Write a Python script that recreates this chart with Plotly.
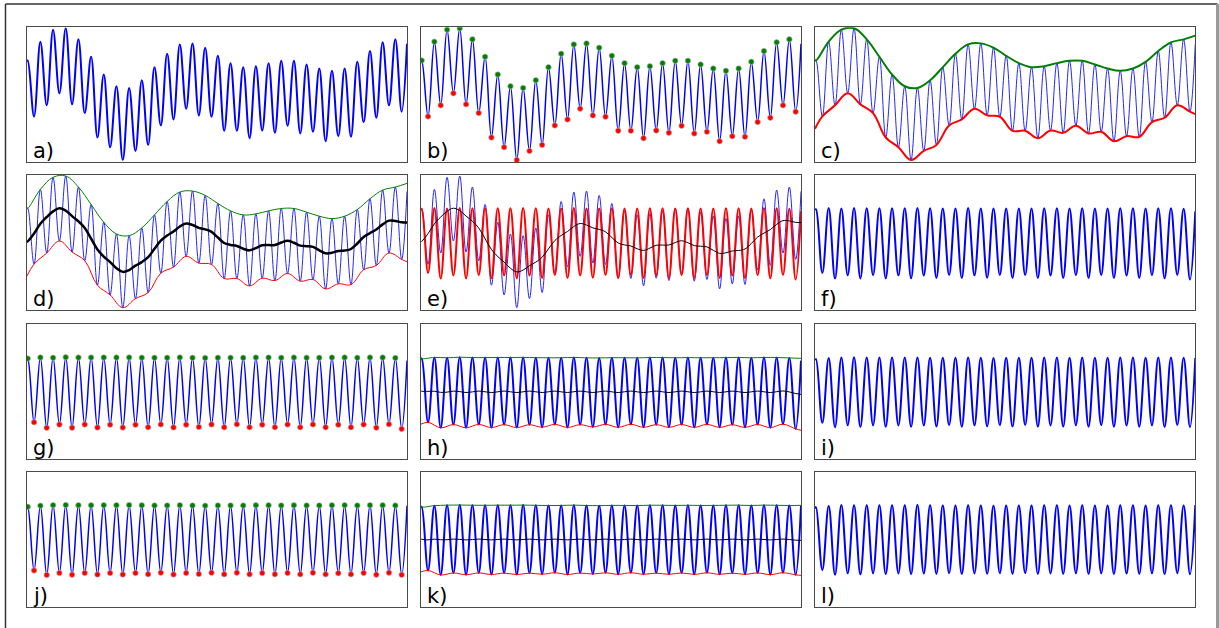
import numpy as np
import plotly.graph_objects as go

# ---------------------------------------------------------------------------
# Data: one intrinsic-mode sifting example (EMD).  The raw signal is given by
# its local maxima / minima; each cycle of the fast oscillation has one of each.
# ---------------------------------------------------------------------------
N_CYCLES = 30
PEAK_PHASE = 0.08      # first maximum, in cycles from the left edge
TROUGH_PHASE = 0.58    # first minimum

signal_max = [1.025, 1.585, 1.945, 1.985, 1.655, 1.135, 0.605, 0.255, 0.205, 0.435,
              0.825, 1.225, 1.505, 1.535, 1.405, 1.165, 0.945, 0.825, 0.855, 0.945,
              1.015, 1.015, 0.905, 0.785, 0.715, 0.785, 0.985, 1.305, 1.565, 1.655]
signal_min = [-0.645, -0.315, 0.045, -0.285, -0.545, -1.275, -1.565, -1.945, -1.675, -1.495,
              -0.915, -0.735, -0.415, -0.615, -0.655, -1.075, -1.075, -1.295, -1.065, -1.135,
              -0.925, -1.155, -1.105, -1.385, -1.235, -1.255, -0.815, -0.685, -0.315, -0.505]
signal_ends = [1.00, 1.525]          # signal value at left / right edge

# envelope values at the two edges for each sifting pass
upper_env_ends = [1.055, 1.765]
lower_env_ends = [-1.015, -0.575]
h1_upper_ends = [1.03, 1.00]
h1_lower_ends = [-0.97, -1.15]
h2_upper_ends = [1.02, 1.02]
h2_lower_ends = [-0.97, -1.07]

panel_labels = ["a)", "b)", "c)", "d)", "e)", "f)", "g)", "h)", "i)", "j)", "k)", "l)"]

# ---------------------------------------------------------------------------
t_max = PEAK_PHASE + np.arange(N_CYCLES)
t_min = TROUGH_PHASE + np.arange(N_CYCLES)
t_ext = np.empty(2 * N_CYCLES)
t_ext[0::2], t_ext[1::2] = t_max, t_min
t_all = np.concatenate([[0.0], t_ext, [float(N_CYCLES)]])

sig_ext = np.empty(2 * N_CYCLES)
sig_ext[0::2], sig_ext[1::2] = signal_max, signal_min
signal = np.concatenate([[signal_ends[0]], sig_ext, [signal_ends[1]]])

MAX_IDX = np.arange(1, 2 * N_CYCLES + 1, 2)
MIN_IDX = np.arange(2, 2 * N_CYCLES + 2, 2)


def natural_spline(xk, yk, xq):
    """Natural cubic spline through (xk, yk), evaluated at xq."""
    xk, yk, xq = map(np.asarray, (xk, yk, xq))
    n = len(xk)
    h = np.diff(xk)
    A = np.zeros((n, n))
    r = np.zeros(n)
    A[0, 0] = A[-1, -1] = 1.0
    for i in range(1, n - 1):
        A[i, i - 1] = h[i - 1]
        A[i, i] = 2 * (h[i - 1] + h[i])
        A[i, i + 1] = h[i]
        r[i] = 6 * ((yk[i + 1] - yk[i]) / h[i] - (yk[i] - yk[i - 1]) / h[i - 1])
    M = np.linalg.solve(A, r)
    idx = np.clip(np.searchsorted(xk, xq) - 1, 0, n - 2)
    x0, x1 = xk[idx], xk[idx + 1]
    hh = x1 - x0
    a = (x1 - xq) / hh
    b = (xq - x0) / hh
    return (a * yk[idx] + b * yk[idx + 1]
            + ((a ** 3 - a) * M[idx] + (b ** 3 - b) * M[idx + 1]) * hh ** 2 / 6)


def envelopes(values, upper_ends, lower_ends):
    ut = np.concatenate([[0.0], t_max, [float(N_CYCLES)]])
    uv = np.concatenate([[upper_ends[0]], values[MAX_IDX], [upper_ends[1]]])
    lt = np.concatenate([[0.0], t_min, [float(N_CYCLES)]])
    lv = np.concatenate([[lower_ends[0]], values[MIN_IDX], [lower_ends[1]]])
    return (ut, uv), (lt, lv)


def sift(values, upper_ends, lower_ends):
    (ut, uv), (lt, lv) = envelopes(values, upper_ends, lower_ends)
    mean = 0.5 * (natural_spline(ut, uv, t_all) + natural_spline(lt, lv, t_all))
    return (ut, uv), (lt, lv), mean, values - mean


up1, lo1, mean1, h1 = sift(signal, upper_env_ends, lower_env_ends)
up2, lo2, mean2, h2 = sift(h1, h1_upper_ends, h1_lower_ends)
up3, lo3, mean3, h3 = sift(h2, h2_upper_ends, h2_lower_ends)

# ---------------------------------------------------------------------------
W, H = 1219, 628
COL_LEFT = [26.7, 420.7, 815.0]
COL_W = 380.3
ROW_TOP = [27.3, 175.0, 324.3, 472.0]
ROW_H = 135.0
Y_RANGE = [-2.015, 2.015]

BLUE, GREEN, RED, BLACK = "#0000ff", "#008000", "#ff0000", "#000000"

fig = go.Figure()
layout = dict(width=W, height=H, margin=dict(l=0, r=0, t=0, b=0),
              paper_bgcolor="white", plot_bgcolor="white", showlegend=False)
annotations = []

for k in range(12):
    row, col = divmod(k, 3)
    n = "" if k == 0 else str(k + 1)
    x0 = COL_LEFT[col] / W
    x1 = (COL_LEFT[col] + COL_W) / W
    y1 = 1 - ROW_TOP[row] / H
    y0 = 1 - (ROW_TOP[row] + ROW_H) / H
    common = dict(showline=True, mirror=True, linecolor="#4a4a4a", linewidth=1.2,
                  showgrid=False, zeroline=False, showticklabels=False, ticks="",
                  fixedrange=True)
    layout["xaxis" + n] = dict(domain=[x0, x1], range=[0, N_CYCLES],
                               anchor="y" + n, **common)
    layout["yaxis" + n] = dict(domain=[y0, y1], range=Y_RANGE,
                               anchor="x" + n, **common)
    annotations.append(dict(text=panel_labels[k], xref="x" + n + " domain",
                            yref="y" + n + " domain", x=0, y=0,
                            xanchor="left", yanchor="bottom", xshift=4, yshift=-3,
                            showarrow=False,
                            font=dict(family="DejaVu Sans", size=21, color="black")))


def line(k, x, y, color, width, opacity=1.0):
    n = "" if k == 0 else str(k + 1)
    fig.add_trace(go.Scatter(x=x, y=y, mode="lines", xaxis="x" + n, yaxis="y" + n,
                             line=dict(color=color, width=width, shape="spline",
                                       smoothing=1.1),
                             opacity=opacity, hoverinfo="skip"))


def dots(k, x, y, color):
    n = "" if k == 0 else str(k + 1)
    fig.add_trace(go.Scatter(x=x, y=y, mode="markers", xaxis="x" + n, yaxis="y" + n,
                             marker=dict(color=color, size=5.5,
                                         line=dict(color="#bbbbbb", width=0.6)),
                             hoverinfo="skip"))


# a) raw signal
line(0, t_all, signal, BLUE, 2)
# b) signal with its extrema
line(1, t_all, signal, BLUE, 1.5)
dots(1, t_max, signal[MAX_IDX], GREEN)
dots(1, t_min, signal[MIN_IDX], RED)
# c) upper / lower envelopes
line(2, t_all, signal, BLUE, 1, 0.85)
line(2, *up1, GREEN, 2)
line(2, *lo1, RED, 2)
# d) envelope mean
line(3, t_all, signal, BLUE, 1, 0.85)
line(3, *up1, GREEN, 1)
line(3, *lo1, RED, 1)
line(3, t_all, mean1, BLACK, 2.5)
# e) first proto-mode
line(4, t_all, signal, BLUE, 1, 0.85)
line(4, t_all, h1, RED, 2)
line(4, t_all, mean1, BLACK, 1)
# f) h1
line(5, t_all, h1, BLUE, 2)
# g) h1 extrema
line(6, t_all, h1, BLUE, 1.5)
dots(6, t_max, h1[MAX_IDX], GREEN)
dots(6, t_min, h1[MIN_IDX], RED)
# h) h1 envelopes and mean
line(7, t_all, h1, BLUE, 2)
line(7, *up2, GREEN, 1)
line(7, *lo2, RED, 1)
line(7, t_all, mean2, BLACK, 1)
# i) h2
line(8, t_all, h2, BLUE, 2)
# j) h2 extrema
line(9, t_all, h2, BLUE, 1.5)
dots(9, t_max, h2[MAX_IDX], GREEN)
dots(9, t_min, h2[MIN_IDX], RED)
# k) h2 envelopes and mean
line(10, t_all, h2, BLUE, 2)
line(10, *up3, GREEN, 1)
line(10, *lo3, RED, 1)
line(10, t_all, mean3, BLACK, 1)
# l) h3
line(11, t_all, h3, BLUE, 2)

# outer frame (top, left, right)
shapes = [
    dict(type="line", xref="paper", yref="paper", x0=5.5 / W, x1=1217.5 / W,
         y0=1 - 4 / H, y1=1 - 4 / H, line=dict(color="#333333", width=1.5)),
    dict(type="line", xref="paper", yref="paper", x0=5.5 / W, x1=5.5 / W,
         y0=0, y1=1 - 4 / H, line=dict(color="#333333", width=1.5)),
    dict(type="line", xref="paper", yref="paper", x0=1217.5 / W, x1=1217.5 / W,
         y0=0, y1=1 - 4 / H, line=dict(color="#999999", width=3)),
]

layout["annotations"] = annotations
layout["shapes"] = shapes
fig.update_layout(**layout)
fig.write_html("out.html")
